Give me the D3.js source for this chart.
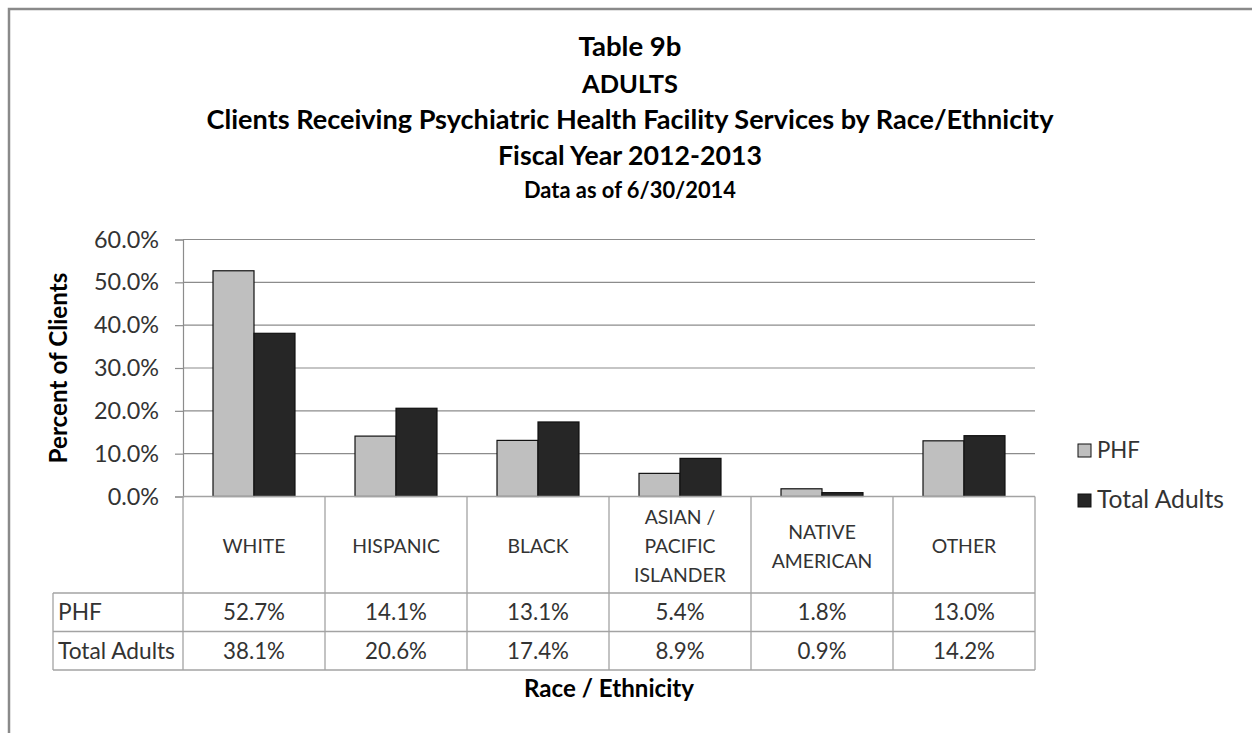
<!DOCTYPE html>
<html>
<head>
<meta charset="utf-8">
<script src="https://cdn.jsdelivr.net/npm/d3@7"></script>
<style>
  html, body { margin: 0; padding: 0; background: #fff; }
  svg { display: block; }
  text { font-family: Lato, "Open Sans", sans-serif; }
</style>
</head>
<body>
<svg id="chart" width="1252" height="733"></svg>
<script>
// ---------------- DATA ----------------
const titleLines = ["Table 9b", "ADULTS",
  "Clients Receiving Psychiatric Health Facility Services by Race/Ethnicity",
  "Fiscal Year 2012-2013"];
const subtitle = "Data as of 6/30/2014";
const categories = ["WHITE", "HISPANIC", "BLACK", "ASIAN / PACIFIC ISLANDER", "NATIVE AMERICAN", "OTHER"];
const categoryLabelLines = [["WHITE"], ["HISPANIC"], ["BLACK"], ["ASIAN /", "PACIFIC", "ISLANDER"], ["NATIVE", "AMERICAN"], ["OTHER"]];
const seriesNames = ["PHF", "Total Adults"];
const phfValues = [52.7, 14.1, 13.1, 5.4, 1.8, 13.0];
const totalAdultsValues = [38.1, 20.6, 17.4, 8.9, 0.9, 14.2];
const yTicks = [0, 10, 20, 30, 40, 50, 60];
const yAxisTitle = "Percent of Clients";
const xAxisTitle = "Race / Ethnicity";

// ---------------- STYLE / LAYOUT ----------------
const seriesFill = { "PHF": "#BFBFBF", "Total Adults": "#262626" };
const barStroke = "#111";
const gridColor = "#8C8C8C";
const tableColor = "#A3A3A3";
const textColor = "#333";

const svg = d3.select("#chart");

function fitWidth(sel, target) {
  sel.each(function () {
    const w = this.getComputedTextLength();
    const fs = parseFloat(d3.select(this).style("font-size"));
    d3.select(this).style("font-size", (fs * target / w) + "px");
  });
}
function sizeFor(sample, bold, target) {
  const t = svg.append("text").attr("font-weight", bold ? "bold" : "normal").style("font-size", "20px").text(sample);
  const w = t.node().getComputedTextLength();
  t.remove();
  return 20 * target / w;
}

// outer frame
svg.append("rect").attr("x", 9).attr("y", 9).attr("width", 1400).attr("height", 900)
  .attr("fill", "none").attr("stroke", "#8A8A8A").attr("stroke-width", 2.5);

// scales
const x = d3.scaleBand().domain(categories).range([183, 1035]).padding(0);
const x1 = d3.scaleBand().domain(seriesNames).range([0, x.bandwidth()]).paddingInner(0).paddingOuter(0.732);
const y = d3.scaleLinear().domain([0, 60]).range([496.5, 239.5]);

// titles
const titleCx = 630;
const titleBaselines = [56, 93, 129, 165];
const titleWidths = [103, 96, 847, 264];
titleLines.forEach((t, i) => {
  const el = svg.append("text").attr("x", titleCx).attr("y", titleBaselines[i])
    .attr("text-anchor", "middle").attr("font-weight", "bold").attr("fill", "#000")
    .style("font-size", "28px").text(t);
  fitWidth(el, titleWidths[i]);
});
const sub = svg.append("text").attr("x", titleCx).attr("y", 198).attr("text-anchor", "middle")
  .attr("font-weight", "bold").attr("fill", "#000").style("font-size", "23px").text(subtitle);
fitWidth(sub, 212);

// gridlines
svg.append("g").selectAll("line").data(yTicks.filter(d => d > 0)).join("line")
  .attr("x1", 183).attr("x2", 1035).attr("y1", d => y(d)).attr("y2", d => y(d))
  .attr("stroke", gridColor).attr("stroke-width", 1.2);

// y axis
const yAxis = d3.axisLeft(y).tickValues(yTicks).tickSize(8).tickPadding(16)
  .tickFormat(d => d3.format(".1f")(d) + "%");
const yG = svg.append("g").attr("transform", "translate(183,0)").call(yAxis);
yG.select(".domain").attr("stroke", gridColor).attr("stroke-width", 1.2);
yG.selectAll(".tick line").attr("stroke", gridColor).attr("stroke-width", 1.2);
const tickSize = sizeFor("60.0%", false, 65);
yG.selectAll(".tick text").attr("fill", textColor).style("font-size", tickSize + "px")
  .style("font-family", "Lato, sans-serif");

// y-axis title
const yt = svg.append("text").attr("transform", "translate(67,368) rotate(-90)")
  .attr("text-anchor", "middle").attr("font-weight", "bold").attr("fill", "#000")
  .style("font-size", "24px").text(yAxisTitle);
fitWidth(yt, 191);

// bars
const rows = categories.map((c, i) => ({ cat: c, vals: [
  { s: "PHF", v: phfValues[i] }, { s: "Total Adults", v: totalAdultsValues[i] }] }));
const groups = svg.append("g").selectAll("g").data(rows).join("g")
  .attr("transform", d => `translate(${x(d.cat)},0)`);
groups.selectAll("rect").data(d => d.vals).join("rect")
  .attr("x", d => x1(d.s)).attr("width", x1.bandwidth())
  .attr("y", d => y(d.v)).attr("height", d => y(0) - y(d.v))
  .attr("fill", d => seriesFill[d.s]).attr("stroke", barStroke).attr("stroke-width", 1.2);

// data table
const tTop = 496.5, tHead = 593, tRow1 = 631.5, tBottom = 670, tLeft = 53;
const tg = svg.append("g").attr("stroke", tableColor).attr("stroke-width", 1.3);
[tHead, tRow1, tBottom].forEach(yy => tg.append("line").attr("x1", tLeft).attr("x2", 1035).attr("y1", yy).attr("y2", yy));
tg.append("line").attr("x1", 183).attr("x2", 1035).attr("y1", tTop).attr("y2", tTop);
const colEdges = categories.map(c => x(c)).concat([x.range()[1]]);
colEdges.forEach(xx => tg.append("line").attr("x1", xx).attr("x2", xx).attr("y1", tTop).attr("y2", tBottom));
tg.append("line").attr("x1", tLeft).attr("x2", tLeft).attr("y1", tHead).attr("y2", tBottom);

const catSize = sizeFor("WHITE", false, 63);
const lineH = 29;
categories.forEach((c, i) => {
  const lines = categoryLabelLines[i];
  const cx = x(c) + x.bandwidth() / 2;
  const midBase = 553;
  lines.forEach((ln, j) => {
    svg.append("text").attr("x", cx).attr("y", midBase + (j - (lines.length - 1) / 2) * lineH)
      .attr("text-anchor", "middle").attr("fill", textColor).style("font-size", catSize + "px").text(ln);
  });
});

const valSize = sizeFor("52.7%", false, 62);
const rowLabelSize = sizeFor("Total Adults", false, 117);
const valueRows = [{ name: seriesNames[0], vals: phfValues, cy: (tHead + tRow1) / 2 },
                   { name: seriesNames[1], vals: totalAdultsValues, cy: (tRow1 + tBottom) / 2 }];
valueRows.forEach(r => {
  svg.append("text").attr("x", 58).attr("y", r.cy).attr("dy", "0.36em").attr("fill", textColor)
    .style("font-size", rowLabelSize + "px").text(r.name);
  r.vals.forEach((v, i) => {
    svg.append("text").attr("x", x(categories[i]) + x.bandwidth() / 2).attr("y", r.cy).attr("dy", "0.36em")
      .attr("text-anchor", "middle").attr("fill", textColor).style("font-size", valSize + "px")
      .text(d3.format(".1f")(v) + "%");
  });
});

// x-axis title
const xt = svg.append("text").attr("x", 609).attr("y", 697).attr("text-anchor", "middle")
  .attr("font-weight", "bold").attr("fill", "#000").style("font-size", "24px").text(xAxisTitle);
fitWidth(xt, 170);

// legend
const legendY = [444, 494];
const legWidths = [43, 127];
seriesNames.forEach((s, i) => {
  svg.append("rect").attr("x", 1078).attr("y", legendY[i]).attr("width", 13).attr("height", 13)
    .attr("fill", seriesFill[s]).attr("stroke", barStroke).attr("stroke-width", 1);
  const lt = svg.append("text").attr("x", 1097).attr("y", legendY[i] + 14).attr("fill", textColor)
    .style("font-size", "24px").text(s);
  fitWidth(lt, legWidths[i]);
});
</script>
</body>
</html>
